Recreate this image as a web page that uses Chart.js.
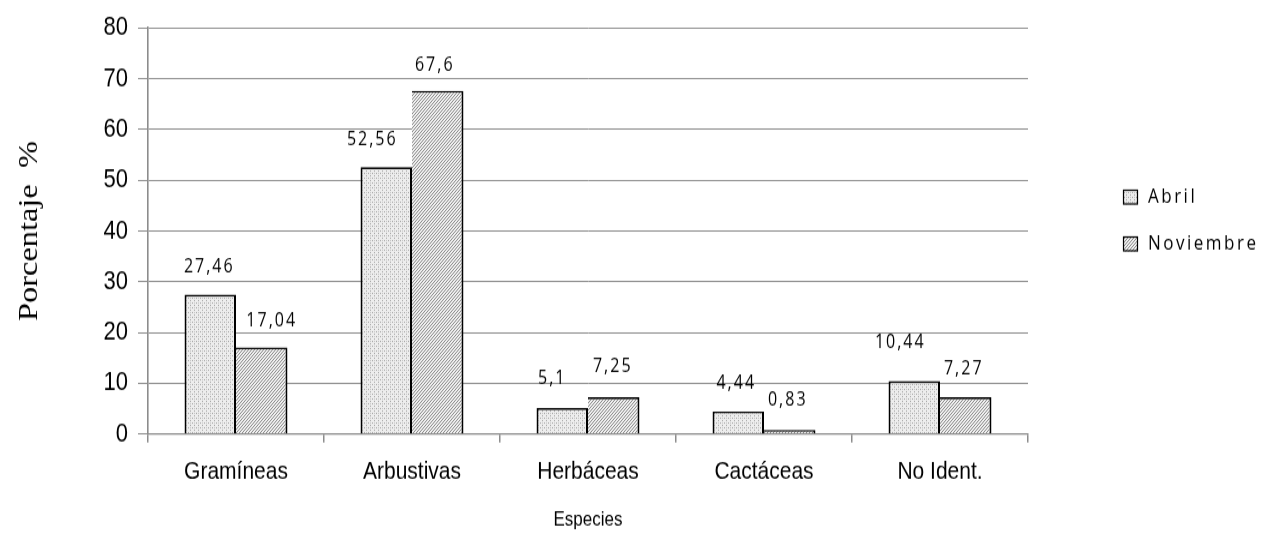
<!DOCTYPE html>
<html lang="es">
<head>
    <meta charset="UTF-8">
    <title>Especies - Porcentaje</title>
    <script src="https://cdn.jsdelivr.net/npm/chart.js"></script>
    <style>
        html, body {
            margin: 0;
            padding: 0;
            background: #fff;
        }
        #frame {
            width: 1270px;
            height: 535px;
            position: relative;
        }
        /* the sheet's chart was exported with a taller aspect, so the drawing is stretched vertically */
        #wrap {
            position: absolute;
            left: 0;
            top: 0;
            width: 1270px;
            height: 446px;
            transform: scaleY(1.2);
            transform-origin: 0 0;
        }
    </style>
</head>
<body>
    <div id="frame">
        <div id="wrap"><canvas id="especiesChart" width="1270" height="446"></canvas></div>
    </div>

    <script>
        const especies = ['Gramíneas', 'Arbustivas', 'Herbáceas', 'Cactáceas', 'No Ident.'];
        const abril = [27.46, 52.56, 5.1, 4.44, 10.44];
        const noviembre = [17.04, 67.6, 7.25, 0.83, 7.27];
        const yTicks = [0, 10, 20, 30, 40, 50, 60, 70, 80];

        const sans = "'Liberation Sans', Arial, sans-serif";
        const labelFont = "'Open Sans', 'Noto Sans', sans-serif";

        // fine dotted fill for Abril
        function dotPattern() {
            const c = document.createElement('canvas');
            c.width = 4; c.height = 4;
            const g = c.getContext('2d');
            g.fillStyle = '#ededed';
            g.fillRect(0, 0, 4, 4);
            g.fillStyle = '#a8a8a8';
            g.fillRect(0, 0, 1, 1);
            g.fillRect(2, 2, 1, 1);
            g.fillStyle = '#c6c6c6';
            g.fillRect(2, 0, 1, 1);
            return g.createPattern(c, 'repeat');
        }

        // dense diagonal hatch for Noviembre
        function hatchPattern() {
            const c = document.createElement('canvas');
            c.width = 3; c.height = 3;
            const g = c.getContext('2d');
            g.fillStyle = '#f0f0f0';
            g.fillRect(0, 0, 3, 3);
            g.fillStyle = '#8a8a8a';
            for (let i = 0; i < 3; i++) {
                g.fillRect(2 - i, i, 1, 1);
            }
            return g.createPattern(c, 'repeat');
        }

        const fillAbril = dotPattern();
        const fillNov = hatchPattern();

        const fmt = v => String(v).replace('.', ',');

        // value labels above each bar, with the small nudges they have in the sheet
        const valueLabels = {
            id: 'valueLabels',
            afterDatasetsDraw(chart, args, opts) {
                const ctx = chart.ctx;
                ctx.save();
                ctx.font = '16px ' + labelFont;
                ctx.letterSpacing = '2px';
                ctx.fillStyle = '#000';
                ctx.textAlign = 'center';
                ctx.textBaseline = 'middle';
                chart.data.datasets.forEach((ds, di) => {
                    const meta = chart.getDatasetMeta(di);
                    meta.data.forEach((bar, i) => {
                        const shift = opts.shifts[di][i];
                        ctx.fillText(fmt(ds.data[i]), bar.x + shift[0], bar.y + shift[1]);
                    });
                });
                ctx.restore();
            }
        };

        // legend at the right, boxes filled with the same patterns
        const sideLegend = {
            id: 'sideLegend',
            afterDraw(chart, args, opts) {
                const ctx = chart.ctx;
                ctx.save();
                ctx.font = '17px ' + labelFont;
                ctx.letterSpacing = '2.5px';
                ctx.textBaseline = 'middle';
                ctx.textAlign = 'left';
                chart.data.datasets.forEach((ds, i) => {
                    const y = opts.top + i * opts.rowGap;
                    ctx.fillStyle = ds.backgroundColor;
                    ctx.fillRect(opts.left, y - 6, 15, 12.5);
                    ctx.strokeStyle = '#000';
                    ctx.lineWidth = 1.2;
                    ctx.strokeRect(opts.left + 0.5, y - 5.5, 14, 11.5);
                    ctx.fillStyle = '#000';
                    ctx.fillText(ds.label, opts.left + 25, y);
                });
                ctx.restore();
            }
        };

        const ctx = document.getElementById('especiesChart').getContext('2d');
        new Chart(ctx, {
            type: 'bar',
            data: {
                labels: especies,
                datasets: [
                    {
                        label: 'Abril',
                        data: abril,
                        backgroundColor: fillAbril,
                        borderColor: '#000',
                        borderWidth: { top: 1.7, left: 2, right: 2, bottom: 0 },
                        borderSkipped: false
                    },
                    {
                        label: 'Noviembre',
                        data: noviembre,
                        backgroundColor: fillNov,
                        borderColor: '#000',
                        borderWidth: { top: 1.7, left: 0, right: 2, bottom: 0 },
                        borderSkipped: false
                    }
                ]
            },
            options: {
                responsive: false,
                animation: false,
                categoryPercentage: 0.585,
                barPercentage: 1.0,
                layout: {
                    padding: { left: 0, right: 242, top: 20, bottom: 0 }
                },
                plugins: {
                    legend: { display: false },
                    tooltip: { enabled: false },
                    valueLabels: {
                        shifts: [
                            [[-1, -23], [-14, -22.5], [-10, -25], [-2, -23], [-14, -32.5]],
                            [[10, -22.5], [-3, -21], [-1, -26], [-2, -25], [-2, -24]]
                        ]
                    },
                    sideLegend: { left: 1123, top: 164, rowGap: 39 }
                },
                scales: {
                    x: {
                        grid: {
                            offset: true,
                            drawOnChartArea: false,
                            drawTicks: true,
                            tickLength: 7,
                            color: '#8c8c8c',
                            lineWidth: 1.5
                        },
                        border: { color: '#8c8c8c', width: 1.3 },
                        ticks: {
                            color: '#000',
                            padding: 12,
                            font: { family: sans, size: 21 }
                        },
                        title: {
                            display: true,
                            text: 'Especies',
                            color: '#000',
                            font: { family: sans, size: 17 },
                            padding: { top: 0, bottom: 2 }
                        },
                        afterFit(scale) { scale.height = 84.3; }
                    },
                    y: {
                        min: 0,
                        max: 80,
                        afterBuildTicks(scale) {
                            scale.ticks = yTicks.map(v => ({ value: v }));
                        },
                        grid: {
                            color: '#8c8c8c',
                            lineWidth: 1,
                            tickLength: 10
                        },
                        border: { color: '#8c8c8c', width: 1.6 },
                        ticks: {
                            color: '#000',
                            padding: 10,
                            font: { family: sans, size: 22 }
                        },
                        title: {
                            display: true,
                            text: 'Porcentaje  %',
                            color: '#000',
                            font: { family: "'Liberation Serif', 'DejaVu Serif', serif", size: 27 },
                            padding: { top: 14, bottom: 0 }
                        },
                        afterFit(scale) { scale.width = 148; }
                    }
                }
            },
            plugins: [valueLabels, sideLegend]
        });
    </script>
</body>
</html>
